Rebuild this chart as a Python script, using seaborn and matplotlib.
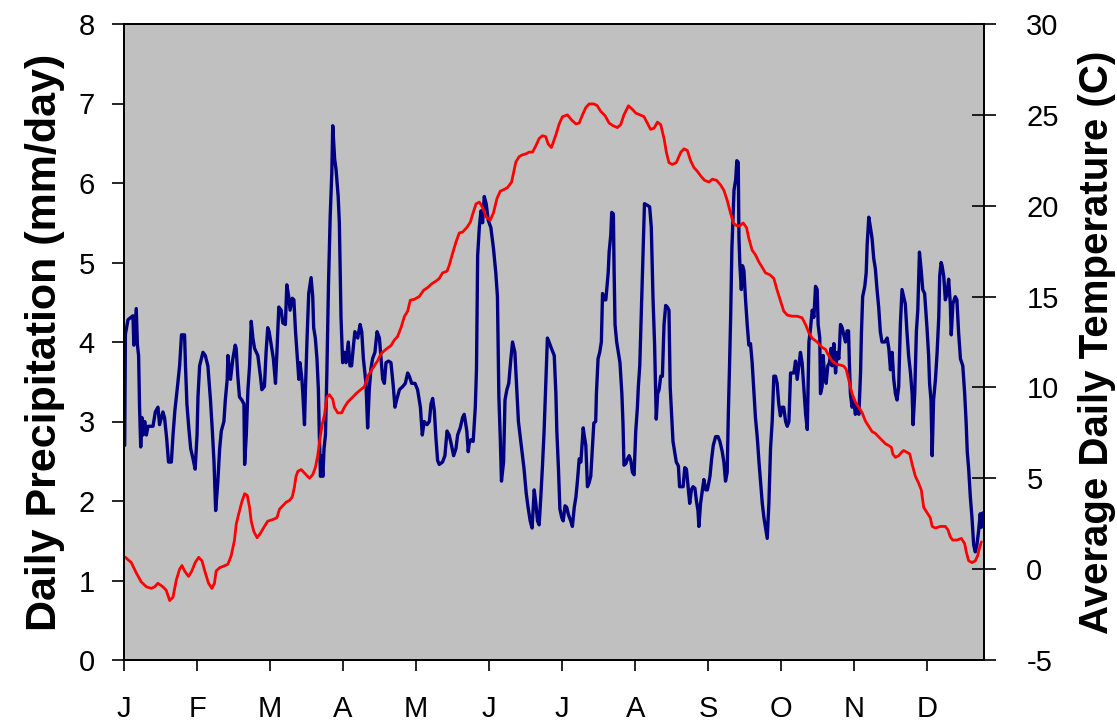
import numpy as np
import pandas as pd
import matplotlib
matplotlib.use('Agg')
import matplotlib.pyplot as plt
import seaborn as sns

# precipitation: day of year, mm/day
prcp_day = [0.3, 0.6, 1.7, 3.8, 4.2, 5.2, 5.7, 6.2, 6.6, 7.1, 7.6, 8.1, 8.8, 9.5, 10.2, 12.3, 13.3, 14.4,
            15.1, 16.5, 17.2, 18.1, 18.9, 20.1, 20.8, 21.6, 22.7, 23.6, 24.4, 25.7, 26.1, 26.7, 27.5, 28.3,
            29.3, 30.2, 31.0, 31.4, 32.1, 33.5, 34.5, 35.6, 36.7, 37.5, 38.2, 38.9, 39.8, 40.6, 41.3, 42.4,
            43.0, 43.8, 44.1, 45.2, 46.2, 47.2, 47.6, 48.3, 49.0, 50.0, 50.9, 51.2, 51.9, 52.6, 53.3, 54.0,
            54.7, 55.4, 56.8, 57.9, 58.5, 59.6, 60.3,
            61.0, 61.6, 62.5, 63.4, 64.3, 64.9, 65.7, 66.7, 67.4, 68.5, 69.1, 69.9, 70.5, 71.4, 72.1, 72.8,
            73.3, 74.2, 74.7, 75.5, 75.9, 76.6, 77.0, 77.7, 78.4, 79.4, 80.1, 80.5, 81.2, 81.9, 82.5, 82.9,
            83.4, 83.8, 84.4, 84.9, 85.5, 86.1, 86.8, 87.5, 88.2, 88.6, 89.0, 89.4, 90.0, 90.9, 91.4, 92.1,
            92.8, 93.5, 94.2, 95.2, 95.9, 96.6, 97.4, 98.0, 99.2, 100.2, 100.9, 101.6, 102.7, 103.4, 104.1,
            104.8, 105.5, 106.5, 107.4, 108.4, 109.1, 109.8, 110.5, 111.2, 112.3, 113.3, 114.3, 115.0,
            115.7, 116.9, 118.3, 119.4, 120.4,
            121.1, 122.1, 123.5, 124.6, 125.8, 126.6, 127.4, 128.6, 129.6, 130.3, 131.0, 131.7, 132.4,
            133.1, 133.8, 135.2, 136.2, 137.1, 138.0, 139.0, 139.9, 140.9, 141.6, 142.7, 143.7, 144.4,
            145.5, 146.1, 146.5, 147.2, 148.2, 149.1, 149.6, 150.1, 150.8, 151.5, 152.2, 152.9, 153.7,
            154.6, 155.7, 156.8, 157.8, 158.5, 159.1, 159.7, 160.2, 161.1, 161.7, 162.5, 163.3, 164.2,
            164.9, 165.9, 166.7, 167.4, 168.4, 169.1, 169.8, 170.7, 171.5, 172.4, 173.2, 174.1, 174.8,
            175.5, 176.2, 176.9, 177.6, 178.3, 179.0, 179.7, 180.4, 181.4,
            182.6, 183.3, 183.7, 184.4, 185.0, 185.8, 186.4, 187.2, 187.9, 188.6, 189.6, 190.3, 191.1,
            191.8, 192.5, 193.2, 193.9, 194.3, 194.9, 195.3, 196.0, 196.7, 197.4, 198.1, 198.8, 199.4,
            200.2, 200.5, 201.2, 201.9, 202.6, 203.1, 203.8, 204.5, 204.9, 205.5, 205.9, 206.6, 207.0,
            207.7, 208.0, 208.4, 209.1, 209.8, 210.5, 211.3, 211.8, 212.2, 213.0, 213.7, 214.4, 215.1,
            215.8, 216.5, 217.2, 217.9, 218.3, 218.9, 219.7, 220.3, 220.9, 222.1, 223.1, 223.8, 224.5,
            225.2, 225.9, 226.5, 227.1, 227.8, 228.5, 229.2, 229.9, 230.6, 231.3, 231.8, 232.4, 233.0,
            233.7, 234.4, 235.3, 235.8, 236.5, 237.3, 238.0, 238.7, 239.4, 240.1, 240.8, 241.5, 242.3,
            242.9, 243.6, 244.0, 244.7, 245.4,
            246.1, 246.9, 247.6, 248.7, 249.4, 250.1, 251.1, 252.1, 252.9, 253.9, 254.6, 255.3, 256.0,
            256.5, 257.0, 257.5, 258.0, 258.4, 258.9, 259.6, 260.1, 260.7, 261.0, 261.4, 262.0, 262.5,
            263.1, 263.8, 264.5, 265.2, 265.9, 266.6, 267.3, 268.0, 268.8, 269.5, 270.2, 270.9, 271.6,
            272.3, 273.0, 273.7, 274.4, 275.1, 275.8, 276.5, 277.2, 277.9, 278.6, 279.3, 280.0, 280.8,
            281.5, 282.2, 282.9, 283.6, 284.3, 285.0, 285.7, 286.4, 287.1, 287.8, 288.5, 289.3, 290.0,
            290.7, 291.4, 292.1, 292.8, 293.5, 294.2, 294.6, 295.3, 295.6, 296.3, 296.7, 297.3, 298.0,
            298.7, 299.4, 300.1, 300.5, 301.3, 302.0, 302.7, 303.4, 304.1,
            304.8, 305.5, 306.2, 306.9, 307.5, 307.9, 308.3, 309.0, 309.7, 310.4, 311.1, 311.9, 312.6,
            313.0, 313.5, 314.4, 315.0, 315.4, 316.1, 316.8, 317.5, 318.2, 318.9, 319.6, 320.3, 321.0,
            321.7, 322.9, 323.9, 324.6, 325.3, 326.0, 326.7, 327.4, 328.1, 328.8, 329.5, 330.2, 330.9,
            331.6, 332.3, 333.0, 333.8, 334.5, 334.9, 335.6, 336.3, 336.9, 337.6, 338.3, 339.0, 339.8,
            340.8, 341.5, 341.9, 342.5, 343.0, 343.6, 344.4, 345.1, 345.8, 346.2, 346.8, 347.2, 347.9,
            348.6, 349.3, 350.0, 350.7, 351.1, 351.8, 352.8, 353.5, 354.2, 355.0, 356.0, 356.8, 357.4,
            357.9, 358.5, 359.2, 359.9, 360.6, 361.3, 362.0, 362.7, 363.4, 363.9, 364.5]
prcp_mm = [2.7, 4.1, 4.28, 4.33, 3.96, 4.42, 3.96, 3.83, 3.18, 2.68, 3.05, 2.83, 3.0, 2.83, 2.94, 2.94, 3.12, 3.18,
           2.96, 3.12, 3.05, 2.79, 2.49, 2.49, 2.83, 3.14, 3.44, 3.7, 4.09, 4.09, 3.7, 3.22, 2.92, 2.66,
           2.53, 2.4, 2.83, 3.31, 3.7, 3.87, 3.83, 3.7, 3.27, 2.88, 2.49, 1.88, 2.23, 2.66, 2.88, 3.0,
           3.27, 3.53, 3.83, 3.53, 3.79, 3.96, 3.92, 3.57, 3.31, 3.27, 3.22, 2.46, 2.83, 3.4, 3.7, 4.26,
           4.05, 3.92, 3.83, 3.57, 3.4, 3.44, 3.87,
           4.18, 4.13, 3.96, 3.79, 3.48, 3.87, 4.44, 4.4, 4.24, 4.22, 4.72, 4.57, 4.4, 4.55, 4.53, 4.13,
           3.92, 3.53, 3.74, 3.53, 3.35, 2.96, 3.4, 4.05, 4.61, 4.81, 4.57, 4.18, 4.05, 3.79, 3.4, 2.83,
           2.31, 2.57, 2.31, 2.66, 2.83, 3.61, 4.74, 5.57, 6.13, 6.72, 6.52, 6.3, 6.17, 5.83, 5.5, 4.31,
           3.74, 3.87, 3.74, 4.0, 3.7, 3.7, 3.96, 4.13, 4.05, 4.22, 4.13, 3.79, 3.48, 2.92, 3.4,
           3.66, 3.79, 3.87, 4.13, 4.05, 3.79, 3.53, 3.48, 3.74, 3.76, 3.74, 3.44, 3.18,
           3.27, 3.4, 3.44, 3.48, 3.61,
           3.57, 3.48, 3.48, 3.4, 3.18, 2.83, 3.0, 2.96, 3.0, 3.22, 3.29, 3.14, 2.79,
           2.51, 2.46, 2.49, 2.57, 2.88, 2.83, 2.7, 2.57, 2.66, 2.83, 2.92, 3.05, 3.09,
           2.88, 2.62, 2.72, 2.77, 2.75, 3.18, 3.66, 5.09, 5.44, 5.65, 5.5, 5.83, 5.74,
           5.53, 5.44, 5.18, 4.87, 4.57, 3.31, 2.79, 2.25, 2.49, 3.27, 3.4, 3.48, 3.79,
           4.0, 3.87, 3.4, 3.0, 2.75, 2.57, 2.4, 2.1, 1.92, 1.75, 1.66, 2.14, 1.97,
           1.75, 1.7, 2.05, 2.44, 2.88, 3.48, 4.05, 4.0, 3.92,
           3.83, 3.35, 2.88, 2.4, 1.9, 1.79, 1.75, 1.94, 1.92, 1.83, 1.75, 1.68, 1.92,
           2.05, 2.27, 2.53, 2.49, 2.66, 2.92, 2.83, 2.7, 2.18, 2.23, 2.31, 2.66, 2.98,
           3.0, 3.35, 3.79, 3.87, 4.0, 4.61, 4.53, 4.53, 4.66, 4.87, 5.13, 5.35, 5.63,
           5.61, 4.92, 4.22, 4.0, 3.87, 3.74, 3.35, 2.96, 2.45, 2.47, 2.53, 2.57, 2.51,
           2.36, 2.33, 2.88, 3.18, 3.44, 3.7, 4.53, 5.13, 5.74, 5.72, 5.7, 5.44, 4.57,
           3.96, 3.03, 3.35, 3.4, 3.57, 3.57, 4.22, 4.46, 4.44, 4.4, 3.44, 3.09, 2.75,
           2.62, 2.49, 2.44, 2.18, 2.18, 2.18, 2.42, 2.4, 2.18, 1.97, 2.14, 2.18, 2.16,
           2.01, 1.88, 1.68, 1.97, 2.12,
           2.27, 2.14, 2.14, 2.31, 2.53, 2.7, 2.81, 2.81, 2.75, 2.62, 2.49, 2.25, 2.36,
           3.11, 3.7, 4.35, 5.18, 5.5, 5.91, 6.04, 6.28, 6.26, 5.31, 4.96, 4.66, 4.96,
           4.9, 4.53, 4.22, 3.96, 3.98, 3.74, 3.4, 3.05, 2.79, 2.49, 2.23, 1.97, 1.79,
           1.66, 1.53, 1.97, 2.66, 3.0, 3.57, 3.57, 3.48, 3.22, 3.07, 3.18, 3.18, 3.0,
           2.94, 3.0, 3.61, 3.61, 3.61, 3.76, 3.53, 3.7, 3.87, 3.74, 3.44, 3.09, 2.9,
           4.0, 4.18, 4.4, 4.31, 4.7, 4.66, 4.22, 4.05, 3.35, 3.44, 3.83, 3.61, 3.48,
           3.7, 3.74, 3.92, 3.7, 3.98, 3.61, 3.87, 3.79, 4.22,
           4.18, 4.09, 4.0, 4.14, 4.14, 3.7, 3.35, 3.18, 3.27, 3.09, 3.18, 3.09, 3.61,
           4.13, 4.57, 4.7, 4.87, 5.22, 5.57, 5.44, 5.3, 5.05, 4.92, 4.66, 4.44, 4.13,
           4.0, 4.0, 4.05, 3.92, 3.65, 3.87, 3.53, 3.35, 3.27, 3.44, 4.22, 4.66, 4.57,
           4.48, 4.13, 3.83, 3.61, 3.35, 2.96, 3.35, 4.13, 4.4, 5.13, 4.92, 4.66, 4.61,
           4.18, 3.83, 3.48, 3.27, 2.57, 3.27, 3.53, 3.87, 4.31, 4.83, 5.0, 4.96, 4.83,
           4.53, 4.61, 4.79, 4.48, 4.09, 4.48, 4.57, 4.53, 4.13, 3.79, 3.7, 3.35, 3.0,
           2.62, 2.4, 2.05, 1.79, 1.45, 1.36, 1.45, 1.62, 1.84, 1.67, 1.85]

# average daily temperature: day of year, deg C
temp_day = [0.6, 3.1, 5.2, 7.3, 9.5, 11.6, 13.0, 14.4, 16.5, 17.9, 19.4, 20.8, 22.2, 23.6, 24.6, 25.7,
            27.4, 28.8, 30.2, 31.7, 33.1, 34.5, 35.9, 37.3, 38.4, 39.1, 40.6, 42.4, 44.1, 45.5, 46.9, 47.6,
            48.6, 50.0, 51.2, 52.3, 53.3, 54.0, 55.1, 56.5, 57.9, 59.6,
            61.0, 63.2, 64.9, 66.0, 67.4, 68.8, 70.2, 71.4, 72.3, 73.0, 73.8, 75.2, 76.6, 78.7, 80.1, 81.2,
            82.2, 83.2, 84.1, 85.1, 86.1, 87.2, 88.6, 89.3, 90.7, 92.4, 93.5, 95.0, 97.1, 98.5, 100.2,
            102.0, 103.4, 104.8, 106.3, 107.7, 109.1, 111.2, 113.3, 114.7, 116.1, 117.6, 119.0, 120.4,
            121.5, 123.2, 125.3, 127.2, 128.9, 130.6, 132.4, 133.8, 135.2, 137.1, 138.0, 139.5, 140.9,
            142.3, 143.7, 145.5, 147.0, 147.9, 149.4, 150.8, 152.2, 153.6, 155.4, 156.8, 158.3, 159.7,
            161.4, 162.8, 164.5, 165.3, 166.3, 167.7, 169.1, 170.5, 172.0, 173.4, 174.8, 176.2, 177.6,
            179.0, 180.0, 181.4,
            183.3, 184.7, 186.1, 188.2, 190.1, 191.8, 193.2, 194.6, 196.0, 197.4, 199.5, 200.9, 202.3,
            204.2, 205.9, 207.6, 209.4, 210.8, 212.2, 214.1, 215.8, 217.2, 218.9, 220.7, 222.1, 223.5,
            225.0, 226.4, 227.8, 229.2, 230.2, 231.3, 232.7, 234.4, 236.3, 237.7, 239.1, 240.5, 241.9,
            243.3, 245.0,
            246.4, 248.3, 249.7, 251.5, 253.2, 254.6, 256.0, 257.2, 258.6, 260.0, 261.4, 262.8, 264.2,
            265.2, 266.6, 268.0, 269.5, 270.9, 272.3, 274.1, 275.8, 277.2, 278.6, 280.0, 281.5, 283.6,
            285.7, 287.8, 289.3, 290.7, 292.1, 294.2, 296.3, 297.7, 299.1, 300.5, 302.4, 304.1, 305.5,
            306.5,
            307.6, 309.0, 310.4, 311.9, 313.3, 314.7, 316.1, 317.5, 318.9, 320.3, 321.7, 323.2, 324.6,
            325.7, 326.3, 327.4, 328.8, 330.0, 330.9, 332.3, 333.5, 334.5, 335.9, 337.3, 338.4, 339.4,
            340.8, 342.2, 343.0, 344.4, 346.5, 348.6, 349.7, 350.7, 351.7, 353.5, 355.4, 356.8, 357.5,
            358.5, 359.9, 361.3, 362.3, 363.0, 363.9]
temp_c = [0.65, 0.36, -0.2, -0.7, -0.97, -1.06, -0.97, -0.78, -0.97, -1.16, -1.73, -1.54, -0.6, 0.0, 0.2, -0.1,
          -0.4, -0.1, 0.36, 0.65, 0.46, -0.2, -0.78, -1.06, -0.78, -0.1, 0.08, 0.17, 0.27, 0.74, 1.6, 2.45,
          3.0, 3.7, 4.15, 4.06, 3.4, 2.64, 2.07, 1.73, 1.97, 2.35,
          2.64, 2.73, 2.83, 3.3, 3.49, 3.68, 3.78, 3.97, 4.5, 5.1, 5.39, 5.48, 5.29, 5.0, 5.2, 5.58,
          6.24, 7.2, 7.95, 8.5, 9.47, 9.6, 9.35, 8.9, 8.6, 8.6, 8.9, 9.2, 9.47, 9.66, 9.85,
          10.04, 10.6, 10.9, 11.2, 11.48, 11.86, 12.1, 12.3, 12.6, 12.8, 13.3, 13.9, 14.2,
          14.8, 14.85, 15.0, 15.35, 15.5, 15.7, 15.85, 16.0, 16.3, 16.4, 16.7, 17.4, 18.0,
          18.5, 18.55, 18.8, 19.1, 19.5, 20.1, 20.2, 19.9, 19.4, 19.2, 19.6, 20.4, 20.8,
          20.9, 21.0, 21.3, 21.8, 22.4, 22.7, 22.8, 22.85, 22.95, 22.95, 23.3, 23.7, 23.85,
          23.8, 23.4, 23.2,
          23.9, 24.5, 24.9, 25.0, 24.7, 24.5, 24.55, 25.0, 25.4, 25.6, 25.6, 25.5, 25.2,
          24.95, 24.55, 24.4, 24.3, 24.46, 25.0, 25.5, 25.3, 25.1, 25.0, 24.9, 24.55, 24.2,
          24.27, 24.6, 24.46, 23.7, 22.94, 22.37, 22.27, 22.37, 22.94, 23.13, 23.04, 22.47, 22.1,
          21.9, 21.6,
          21.4, 21.3, 21.46, 21.4, 21.14, 20.85, 20.3, 19.7, 19.05, 18.9, 18.9, 19.05, 18.8,
          18.2, 17.55, 17.3, 16.9, 16.6, 16.3, 16.2, 16.0, 15.35, 14.78, 14.2, 13.98, 13.92,
          13.92, 13.83, 13.45, 13.0, 12.7, 12.5, 12.2, 12.1, 11.75, 11.46, 11.27, 11.23, 11.17,
          11.0,
          10.4, 9.66, 9.2, 8.9, 8.6, 8.14, 7.86, 7.57, 7.47, 7.28, 7.1, 6.9, 6.8,
          6.7, 6.34, 6.15, 6.24, 6.43, 6.53, 6.43, 6.34, 5.77, 5.1, 4.72, 4.35, 3.4,
          3.11, 2.83, 2.35, 2.26, 2.35, 2.35, 2.16, 1.78, 1.6, 1.6, 1.69, 1.4, 0.93,
          0.46, 0.36, 0.46, 0.74, 1.12, 1.5]

month_ticks = [0, 31, 62, 93, 124, 155, 186, 217, 248, 279, 310, 341]
month_labels = ['J', 'F', 'M', 'A', 'M', 'J', 'J', 'A', 'S', 'O', 'N', 'D']

prcp = pd.DataFrame({'day': prcp_day, 'mm': prcp_mm})
temp = pd.DataFrame({'day': temp_day, 'c': temp_c})

sns.set_style('white')
plt.rcParams['font.family'] = ['Liberation Sans', 'DejaVu Sans']
plt.rcParams['axes.unicode_minus'] = False
plt.rcParams['text.color'] = 'black'
plt.rcParams['axes.labelcolor'] = 'black'
plt.rcParams['xtick.color'] = 'black'
plt.rcParams['ytick.color'] = 'black'

fig = plt.figure(figsize=(11.17, 7.28), dpi=100)
ax = fig.add_axes([124 / 1117, 1 - 660 / 728, 860 / 1117, 636 / 728])
ax.set_facecolor('#C0C0C0')
ax2 = ax.twinx()

sns.lineplot(data=prcp, x='day', y='mm', ax=ax, color='#000080', linewidth=2.4, sort=False)
sns.lineplot(data=temp, x='day', y='c', ax=ax2, color='#FF0000', linewidth=2.0, sort=False)

ax.set_xlim(0, 365)
ax.set_ylim(0, 8)
ax2.set_ylim(-5, 30)
ax.set_yticks(range(0, 9))
ax2.set_yticks(range(-5, 31, 5))
ax.set_xticks(month_ticks)
ax.set_xticklabels(month_labels)

ax.set_xlabel('')
ax.set_ylabel('Daily Precipitation (mm/day)', fontsize=31, fontweight='bold', labelpad=10,
              color='black')
ax2.set_ylabel('Average Daily Temperature (C)', fontsize=29, fontweight='bold', labelpad=14,
               rotation=90, color='black')

for a in (ax, ax2):
    for s in a.spines.values():
        s.set_color('black')
        s.set_linewidth(1.3)
    a.grid(False)

ax.tick_params(axis='y', direction='out', length=9, width=1.2, pad=12, labelsize=21, left=True,
               colors='black')
ax.tick_params(axis='x', direction='out', length=8, width=1.2, pad=17, labelsize=21, bottom=True,
               colors='black')
ax2.tick_params(axis='y', direction='inout', length=17, width=1.2, pad=22, labelsize=21, right=True,
                colors='black')

fig.savefig('out.png', dpi=100)
